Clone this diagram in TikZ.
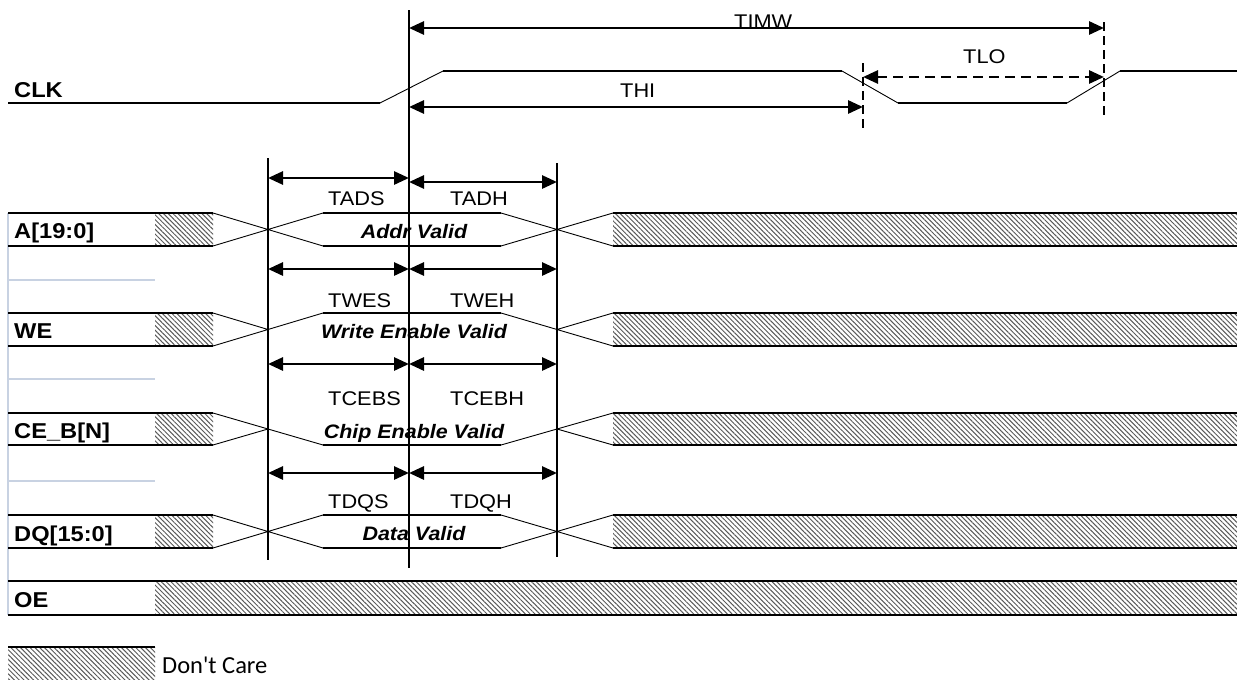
\documentclass[tikz,border=0pt]{standalone}
\usepackage{fontspec}
\setmainfont[FakeStretch=1.1]{Liberation Sans}
\newfontfamily\carl{Carlito}
\usetikzlibrary{patterns.meta,arrows.meta}
\definecolor{sepgray}{RGB}{200,210,226}
\tikzset{
 sig/.style={line width=2.5pt},
 trn/.style={line width=0.9pt},
 vbar/.style={line width=2.5pt},
 dimarrow/.style={line width=2.8pt,{Triangle[length=15pt,width=13pt]}-{Triangle[length=15pt,width=13pt]}},
 dashvbar/.style={line width=2.8pt,dash pattern=on 9pt off 5pt},
 hatch/.style={pattern={Lines[angle=-45,distance=3.4pt,line width=1pt]},pattern color=black!65},
 sep/.style={draw=sepgray,line width=1.3pt},
 lbl/.style={font=\fontsize{21.5}{23}\selectfont\bfseries,anchor=base west,inner sep=0},
 tlbl/.style={font=\fontsize{19.8}{21}\selectfont,anchor=base west,inner sep=0},
 vlbl/.style={font=\fontsize{19.5}{21}\selectfont\bfseries\itshape,anchor=base,inner sep=0},
}
\begin{document}
\begin{tikzpicture}[x=1pt,y=-1pt]
\useasboundingbox (0,0) rectangle (1237,680);
% separators
\draw[sep] (8,213) -- (8,615);
\foreach \yy in {280,379,481} \draw[sep] (8,\yy) -- (155,\yy);
% ---- CLK
\node[lbl] (clk) at (14,97) {CLK};
\draw[sig] (8,103) -- (380,103);
\draw[trn] (380,103) -- (443,71);
\draw[sig] (443,71) -- (842,71);
\draw[trn] (842,71) -- (898,103);
\draw[sig] (898,103) -- (1067,103);
\draw[trn] (1067,103) -- (1120,71);
\draw[sig] (1120,71) -- (1237,71);
% vertical reference lines
\coordinate (sT) at (268,158); \coordinate (sB) at (268,560);
\coordinate (kT) at (409,10);  \coordinate (kB) at (409,568);
\coordinate (hT) at (557,163); \coordinate (hB) at (557,557);
\draw[vbar] (sT) -- (sB);
\draw[vbar] (kT) -- (kB);
\draw[vbar] (hT) -- (hB);
\coordinate (d1T) at (863,63); \coordinate (d1B) at (863,132);
\coordinate (d2T) at (1104,22); \coordinate (d2B) at (1104,117);
\draw[dashvbar] (d1T) -- (d1B);
\draw[dashvbar] (d2T) -- (d2B);
% clock arrows
\coordinate (timwL) at (409,28); \coordinate (timwR) at (1104,28);
\draw[dimarrow] (timwL) -- (timwR);
\node[tlbl] (timw) at (734,28) {TIMW};
\coordinate (thiL) at (409,107); \coordinate (thiR) at (863,107);
\draw[dimarrow] (thiL) -- (thiR);
\node[tlbl] (thi) at (620,97) {THI};
\coordinate (tloL) at (863,77); \coordinate (tloR) at (1104,77);
\draw[dimarrow,dash pattern=on 10pt off 6pt] (tloL) -- (tloR);
\node[tlbl] (tlo) at (963,63) {TLO};
% ---- A[19:0]
\node[lbl] (la) at (14,238) {A[19:0]};
\fill[hatch] (155,213) rectangle (213,246);
\draw[sig] (8,213) -- (213,213) (8,246) -- (213,246);
\draw[trn] (213,213) -- (323,246) (213,246) -- (323,213);
\draw[sig] (323,213) -- (501,213) (323,246) -- (501,246);
\draw[trn] (501,213) -- (613,246) (501,246) -- (613,213);
\fill[hatch] (613,213) rectangle (1237,246);
\draw[sig] (613,213) -- (1237,213) (613,246) -- (1237,246);
\coordinate (aS) at (268,178); \coordinate (aK) at (409,178);
\coordinate (aK2) at (409,182); \coordinate (aH) at (557,182);
\draw[dimarrow] (aS) -- (aK);
\draw[dimarrow] (aK2) -- (aH);
\node[tlbl] (tads) at (328,205) {TADS};
\node[tlbl] (tadh) at (450,205) {TADH};
\node[vlbl] (va) at (414,238) {Addr Valid};
% ---- WE
\node[lbl] (lwe) at (14,338) {WE};
\fill[hatch] (155,313) rectangle (213,346);
\draw[sig] (8,313) -- (213,313) (8,346) -- (213,346);
\draw[trn] (213,313) -- (268,329.5) -- (323,313) (213,346) -- (268,329.5);
\draw[sig] (323,313) -- (501,313);
\draw[trn] (501,313) -- (557,329.5) -- (613,313) (557,329.5) -- (613,346);
\fill[hatch] (613,313) rectangle (1237,346);
\draw[sig] (613,313) -- (1237,313) (613,346) -- (1237,346);
\coordinate (wS) at (268,269); \coordinate (wK) at (409,269); \coordinate (wH) at (557,269);
\draw[dimarrow] (wS) -- (wK);
\draw[dimarrow] (wK) -- (wH);
\node[tlbl] (twes) at (328,307) {TWES};
\node[tlbl] (tweh) at (450,307) {TWEH};
\node[vlbl] (vwe) at (414,338) {Write Enable Valid};
% ---- CE_B[N]
\node[lbl] (lce) at (14,438) {CE\_B[N]};
\fill[hatch] (155,413) rectangle (213,445);
\draw[sig] (8,413) -- (213,413) (8,445) -- (213,445);
\draw[trn] (213,413) -- (323,445) (213,445) -- (268,429);
\draw[sig] (323,445) -- (501,445);
\draw[trn] (501,445) -- (557,429) -- (613,413) (557,429) -- (613,445);
\fill[hatch] (613,413) rectangle (1237,445);
\draw[sig] (613,413) -- (1237,413) (613,445) -- (1237,445);
\coordinate (cS) at (268,364); \coordinate (cK) at (409,364); \coordinate (cH) at (557,364);
\draw[dimarrow] (cS) -- (cK);
\draw[dimarrow] (cK) -- (cH);
\node[tlbl] (tcebs) at (328,405) {TCEBS};
\node[tlbl] (tcebh) at (450,405) {TCEBH};
\node[vlbl] (vce) at (414,438) {Chip Enable Valid};
% ---- DQ[15:0]
\node[lbl] (ldq) at (14,541) {DQ[15:0]};
\fill[hatch] (155,515) rectangle (213,548);
\draw[sig] (8,515) -- (213,515) (8,548) -- (213,548);
\draw[trn] (213,515) -- (323,548) (213,548) -- (323,515);
\draw[sig] (323,515) -- (501,515) (323,548) -- (501,548);
\draw[trn] (501,515) -- (613,548) (501,548) -- (613,515);
\fill[hatch] (613,515) rectangle (1237,548);
\draw[sig] (613,515) -- (1237,515) (613,548) -- (1237,548);
\coordinate (qS) at (268,473); \coordinate (qK) at (409,473); \coordinate (qH) at (557,473);
\draw[dimarrow] (qS) -- (qK);
\draw[dimarrow] (qK) -- (qH);
\node[tlbl] (tdqs) at (328,508) {TDQS};
\node[tlbl] (tdqh) at (450,508) {TDQH};
\node[vlbl] (vdq) at (414,540) {Data Valid};
% ---- OE
\node[lbl] (loe) at (14,607) {OE};
\fill[hatch] (155,581) rectangle (1237,615);
\draw[sig] (8,581) -- (1237,581) (8,615) -- (1237,615);
% ---- legend
\fill[hatch] (8,647) rectangle (155,682);
\draw[sig] (8,647) -- (155,647);
\node[font=\carl\fontsize{24.5}{26}\selectfont,anchor=base west,inner sep=0] (dc) at (162,673) {Don't Care};
\end{tikzpicture}
\end{document}
